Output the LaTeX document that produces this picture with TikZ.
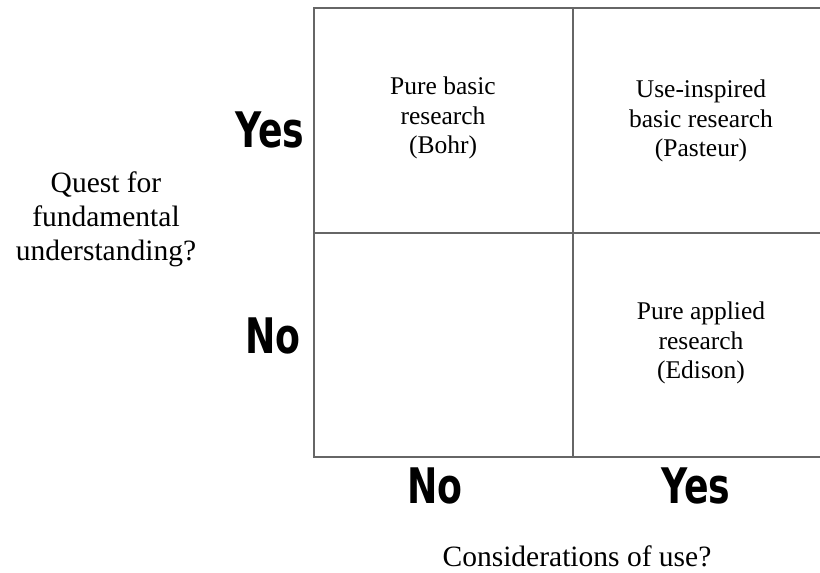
\documentclass[tikz,border=0pt]{standalone}
\usepackage{fontspec}
\setmainfont{Liberation Serif}
\newfontfamily\heavyfont{DejaVu Sans Bold}

\begin{document}
\begin{tikzpicture}[x=1pt, y=-1pt]
    \tikzstyle{grid line}=[draw=black!60, line width=1.3pt]
    \tikzstyle{cell}=[align=center, font=\fontsize{25.5}{29.5}\selectfont]
    \tikzstyle{axis}=[align=center, font=\fontsize{29.5}{34}\selectfont]
    \tikzstyle{answer}=[inner sep=0pt, xscale=0.74, font=\heavyfont\fontsize{49}{49}\selectfont]
    \useasboundingbox (0,0) rectangle (820,573);

    % corners of the quadrants
    \coordinate (tl) at (314,8);
    \coordinate (tm) at (573,8);
    \coordinate (tr) at (820,8);
    \coordinate (ml) at (314,233);
    \coordinate (mr) at (820,233);
    \coordinate (bl) at (314,457);
    \coordinate (bm) at (573,457);
    \coordinate (br) at (820,457);

    \draw[grid line] (tr) -- (tl) -- (bl) -- (br);
    \draw[grid line] (tm) -- (bm);
    \draw[grid line] (ml) -- (mr);

    \node[cell] (bohr) at (443,118) {Pure basic\\research\\(Bohr)};
    \node[cell] (pasteur) at (701,121) {Use-inspired\\basic research\\(Pasteur)};
    \node[cell] (edison) at (701,343) {Pure applied\\research\\(Edison)};

    \node[answer] (fyes) at (270,130) {Yes};
    \node[answer] (fno) at (273,336) {No};
    \node[answer] (uno) at (435,486) {No};
    \node[answer] (uyes) at (696,486) {Yes};

    \node[axis] (quest) at (106,219) {Quest for\\fundamental\\understanding?};
    \node[axis] (use) at (577,556) {Considerations of use?};
\end{tikzpicture}
\end{document}
